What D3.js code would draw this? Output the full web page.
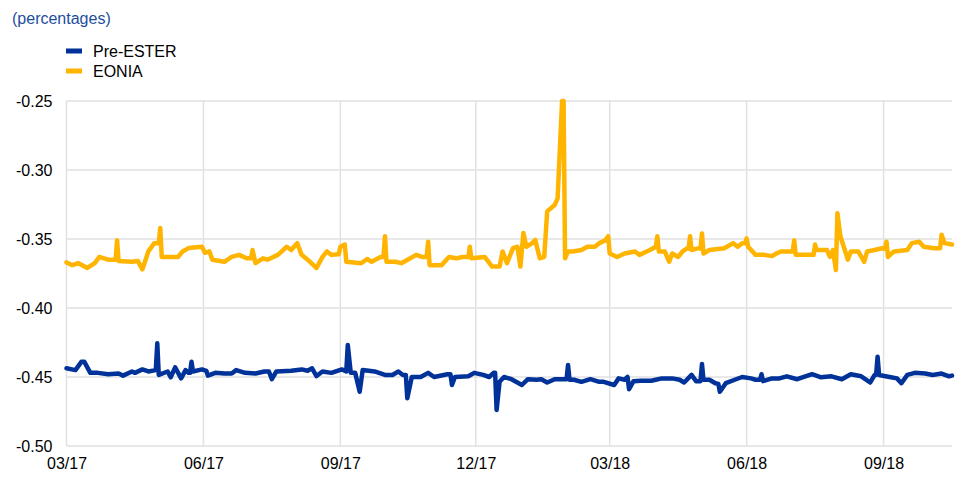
<!DOCTYPE html>
<html lang="en">
  <head>
    <meta charset="UTF-8" />
    <title>Pre-ESTER and EONIA</title>
    <style>
      body { margin: 0; background: #fff; }
      svg { font-family: "Liberation Sans", Arial, sans-serif; }
    </style>
  </head>
  <body>
    <svg width="965" height="490"></svg>

    <script src="https://d3js.org/d3.v7.min.js"></script>
    <script>
      (function () {
        "use strict";

        // series names and colours
        var seriesNames = ["Pre-ESTER", "EONIA"];
        var seriesColors = ["#003299", "#ffb400"];

        // y axis ticks
        var yTicks = [-0.25, -0.3, -0.35, -0.4, -0.45, -0.5];

        // EONIA (dates / values)
        var eoniaDates = [
          "2017-03-01","2017-03-05","2017-03-09","2017-03-15","2017-03-20","2017-03-23","2017-03-29",
          "2017-04-03","2017-04-04","2017-04-05","2017-04-14","2017-04-18","2017-04-21","2017-04-25","2017-04-29",
          "2017-05-02","2017-05-03","2017-05-04","2017-05-15","2017-05-18","2017-05-22","2017-05-31",
          "2017-06-02","2017-06-05","2017-06-07","2017-06-15","2017-06-20","2017-06-25","2017-06-30",
          "2017-07-03","2017-07-04","2017-07-06","2017-07-11","2017-07-14","2017-07-21","2017-07-27","2017-07-30",
          "2017-08-03","2017-08-06","2017-08-10","2017-08-16","2017-08-20","2017-08-23","2017-08-26","2017-08-31",
          "2017-09-01","2017-09-04","2017-09-05","2017-09-15","2017-09-19","2017-09-22","2017-09-28","2017-09-30",
          "2017-10-01","2017-10-02","2017-10-08","2017-10-12","2017-10-18","2017-10-22","2017-10-26","2017-10-29",
          "2017-10-30","2017-10-31","2017-11-08","2017-11-13","2017-11-18","2017-11-22","2017-11-26","2017-11-27",
          "2017-11-28","2017-12-07","2017-12-12","2017-12-17","2017-12-19","2017-12-22","2017-12-26","2017-12-29",
          "2017-12-31","2018-01-02","2018-01-04","2018-01-08","2018-01-10","2018-01-13","2018-01-16","2018-01-18",
          "2018-01-23","2018-01-25","2018-01-28","2018-01-29","2018-01-30","2018-02-01","2018-02-04","2018-02-10",
          "2018-02-14","2018-02-19","2018-02-22","2018-02-26","2018-02-28","2018-03-01","2018-03-06","2018-03-11",
          "2018-03-18","2018-03-21","2018-03-28","2018-04-01","2018-04-02","2018-04-03","2018-04-07","2018-04-10",
          "2018-04-12","2018-04-16","2018-04-19","2018-04-22","2018-04-23","2018-04-24","2018-04-25","2018-04-30",
          "2018-05-01","2018-05-02","2018-05-03","2018-05-07","2018-05-17","2018-05-23","2018-05-26","2018-05-29",
          "2018-05-31","2018-06-01","2018-06-02","2018-06-07","2018-06-13","2018-06-18","2018-06-21","2018-06-24",
          "2018-06-28","2018-07-02","2018-07-03","2018-07-04","2018-07-15","2018-07-16","2018-07-17","2018-07-18",
          "2018-07-25","2018-07-27","2018-07-29","2018-07-31","2018-08-01","2018-08-03","2018-08-06","2018-08-08",
          "2018-08-10","2018-08-15","2018-08-19","2018-08-21","2018-08-26","2018-08-31","2018-09-02","2018-09-03",
          "2018-09-04","2018-09-08","2018-09-17","2018-09-20","2018-09-25","2018-09-28","2018-10-05","2018-10-09",
          "2018-10-10","2018-10-12","2018-10-17"
        ];
        var eoniaValues = [
          -0.367,-0.369,-0.3675,-0.371,-0.3675,-0.363,-0.365,
          -0.365,-0.351,-0.366,-0.3665,-0.366,-0.372,-0.359,-0.353,
          -0.353,-0.342,-0.363,-0.363,-0.359,-0.3566,-0.3556,
          -0.36,-0.359,-0.365,-0.3665,-0.363,-0.3615,-0.364,
          -0.364,-0.358,-0.3675,-0.364,-0.365,-0.3615,-0.3556,-0.358,
          -0.353,-0.3615,-0.365,-0.371,-0.363,-0.359,-0.3615,-0.361,
          -0.3556,-0.354,-0.3665,-0.3676,-0.3645,-0.3665,-0.363,-0.363,
          -0.348,-0.3665,-0.3665,-0.3675,-0.364,-0.3615,-0.363,-0.363,
          -0.352,-0.369,-0.369,-0.363,-0.364,-0.363,-0.363,-0.3556,
          -0.364,-0.363,-0.37,-0.37,-0.359,-0.3675,-0.3566,-0.3556,
          -0.37,-0.3457,-0.3556,-0.353,-0.3507,-0.364,-0.363,-0.33,
          -0.3254,-0.3205,-0.25,-0.25,-0.364,-0.359,-0.359,-0.358,
          -0.3556,-0.3556,-0.353,-0.351,-0.348,-0.3605,-0.363,-0.3605,
          -0.359,-0.3615,-0.358,-0.3556,-0.348,-0.359,-0.359,-0.3665,
          -0.3605,-0.363,-0.359,-0.3567,-0.357,-0.348,-0.358,-0.3566,
          -0.357,-0.346,-0.3605,-0.358,-0.3567,-0.353,-0.3556,-0.353,
          -0.353,-0.3495,-0.3556,-0.3615,-0.3615,-0.3624,-0.3605,-0.359,
          -0.359,-0.359,-0.351,-0.3615,-0.3615,-0.3615,-0.354,-0.358,
          -0.358,-0.363,-0.358,-0.3725,-0.3314,-0.348,-0.358,-0.365,
          -0.359,-0.359,-0.3665,-0.359,-0.358,-0.3567,-0.357,-0.352,
          -0.363,-0.359,-0.358,-0.353,-0.352,-0.3556,-0.3567,-0.3567,
          -0.347,-0.353,-0.354
        ];

        // Pre-ESTER
        var esterDates = [
          "2017-03-01","2017-03-07","2017-03-11","2017-03-13","2017-03-17","2017-03-22","2017-03-29",
          "2017-04-05","2017-04-08","2017-04-14","2017-04-16","2017-04-21","2017-04-25","2017-04-30",
          "2017-05-01","2017-05-02","2017-05-08","2017-05-10","2017-05-13","2017-05-17","2017-05-20","2017-05-22",
          "2017-05-23","2017-05-24","2017-05-25","2017-05-31","2017-06-03","2017-06-04","2017-06-09","2017-06-15",
          "2017-06-20","2017-06-23","2017-06-29","2017-07-06","2017-07-12","2017-07-15","2017-07-17","2017-07-20",
          "2017-07-30","2017-08-06","2017-08-10","2017-08-13","2017-08-16","2017-08-20","2017-08-26","2017-09-02",
          "2017-09-05","2017-09-06","2017-09-08","2017-09-11","2017-09-14","2017-09-16","2017-09-24","2017-10-01",
          "2017-10-06","2017-10-10","2017-10-13","2017-10-15","2017-10-16","2017-10-19","2017-10-25","2017-10-30",
          "2017-11-03","2017-11-12","2017-11-14","2017-11-15","2017-11-17","2017-11-26","2017-11-30","2017-12-06",
          "2017-12-10","2017-12-13","2017-12-14","2017-12-15","2017-12-17","2017-12-20","2017-12-25","2018-01-01",
          "2018-01-05","2018-01-11","2018-01-14","2018-01-18","2018-01-23","2018-01-28","2018-01-31","2018-02-01",
          "2018-02-02","2018-02-05","2018-02-10","2018-02-16","2018-02-22","2018-02-25","2018-03-04","2018-03-07",
          "2018-03-11","2018-03-13","2018-03-14","2018-03-17","2018-03-22","2018-03-29","2018-04-05","2018-04-12",
          "2018-04-17","2018-04-20","2018-04-25","2018-04-28","2018-05-01","2018-05-02","2018-05-03","2018-05-07",
          "2018-05-11","2018-05-13","2018-05-14","2018-05-18","2018-05-24","2018-05-29","2018-06-04","2018-06-07",
          "2018-06-10","2018-06-11","2018-06-12","2018-06-18","2018-06-23","2018-06-28","2018-07-05","2018-07-15",
          "2018-07-21","2018-07-28","2018-08-04","2018-08-10","2018-08-17","2018-08-23","2018-08-26","2018-08-27",
          "2018-08-28","2018-08-29","2018-09-05","2018-09-10","2018-09-13","2018-09-17","2018-09-22","2018-09-29",
          "2018-10-04","2018-10-10","2018-10-15","2018-10-17"
        ];
        var esterValues = [
          -0.4437,-0.445,-0.439,-0.439,-0.447,-0.447,-0.448,
          -0.4475,-0.449,-0.446,-0.447,-0.4445,-0.446,-0.445,
          -0.4256,-0.4485,-0.446,-0.4502,-0.443,-0.451,-0.445,-0.447,
          -0.447,-0.439,-0.446,-0.4445,-0.4455,-0.449,-0.447,-0.4475,
          -0.4475,-0.445,-0.447,-0.4475,-0.446,-0.446,-0.4516,-0.446,
          -0.4455,-0.4445,-0.4455,-0.4437,-0.4493,-0.446,-0.447,-0.4445,
          -0.446,-0.4268,-0.447,-0.447,-0.4607,-0.445,-0.446,-0.4485,
          -0.4485,-0.446,-0.4485,-0.4485,-0.4654,-0.45,-0.45,-0.447,
          -0.45,-0.448,-0.448,-0.4558,-0.45,-0.4495,-0.447,-0.4485,
          -0.45,-0.447,-0.447,-0.4739,-0.4535,-0.45,-0.4516,-0.4558,
          -0.4516,-0.452,-0.4516,-0.454,-0.4516,-0.4516,-0.4516,-0.4413,
          -0.452,-0.452,-0.4535,-0.4516,-0.4535,-0.4535,-0.4558,-0.451,
          -0.452,-0.45,-0.4589,-0.453,-0.4527,-0.4527,-0.451,-0.451,
          -0.452,-0.454,-0.4485,-0.453,-0.453,-0.4406,-0.452,-0.452,
          -0.4545,-0.455,-0.4607,-0.4545,-0.452,-0.45,-0.451,-0.452,
          -0.452,-0.448,-0.453,-0.451,-0.451,-0.4495,-0.4516,-0.448,
          -0.4502,-0.4495,-0.4516,-0.448,-0.4495,-0.454,-0.4485,-0.4485,
          -0.4353,-0.4485,-0.45,-0.451,-0.4545,-0.4485,-0.447,-0.4475,
          -0.4485,-0.4475,-0.4495,-0.449
        ];

        var parse = d3.timeParse("%Y-%m-%d");
        var series = [
          { name: seriesNames[0], color: seriesColors[0],
            points: esterDates.map(function (d, i) { return { date: parse(d), value: esterValues[i] }; }) },
          { name: seriesNames[1], color: seriesColors[1],
            points: eoniaDates.map(function (d, i) { return { date: parse(d), value: eoniaValues[i] }; }) }
        ];

        var left = 66.5, right = 952, top = 101, bottom = 446;
        var startDate = parse("2017-03-01"), endDate = parse("2018-10-17");

        var x = d3.scaleTime().domain([startDate, endDate]).range([left, right]);
        var y = d3.scaleLinear().domain([-0.5, -0.25]).range([bottom, top]);

        // quarterly ticks: 03/17, 06/17, ...
        var xTicks = d3.timeMonth.range(startDate, endDate, 3);

        // plain hyphen for negative numbers
        var fmt = d3.formatLocale({ decimal: ".", thousands: ",", grouping: [3], currency: ["", ""], minus: "-" }).format(".2f");

        var svg = d3.select("svg");

        // title
        svg.append("text")
          .attr("x", 12).attr("y", 24)
          .attr("fill", "#1d4e9e")
          .style("font-size", "16px")
          .text("(percentages)");

        // legend
        var legend = svg.selectAll("g.legend").data(series).enter()
          .append("g").attr("class", "legend")
          .attr("transform", function (d, i) { return "translate(66," + (51 + i * 20) + ")"; });
        legend.append("rect")
          .attr("x", 0).attr("y", -2.5).attr("width", 16).attr("height", 5)
          .attr("fill", function (d) { return d.color; });
        legend.append("text")
          .attr("x", 27).attr("y", 6)
          .attr("fill", "#000")
          .style("font-size", "16px")
          .text(function (d) { return d.name; });

        // grid
        svg.append("g").selectAll("line").data(yTicks).enter().append("line")
          .attr("x1", left).attr("x2", right)
          .attr("y1", function (d) { return y(d); }).attr("y2", function (d) { return y(d); })
          .attr("stroke", "#e1e1e1").attr("stroke-width", 1.5);
        svg.append("g").selectAll("line").data(xTicks).enter().append("line")
          .attr("x1", function (d) { return x(d); }).attr("x2", function (d) { return x(d); })
          .attr("y1", top).attr("y2", bottom)
          .attr("stroke", "#e1e1e1").attr("stroke-width", 1.5);

        // axes (labels only)
        var yAxis = svg.append("g")
          .attr("transform", "translate(" + (left - 14) + ",0)")
          .call(d3.axisLeft(y).tickValues(yTicks).tickFormat(fmt).tickSize(0).tickPadding(0));
        var xAxis = svg.append("g")
          .attr("transform", "translate(0," + (bottom + 12) + ")")
          .call(d3.axisBottom(x).tickValues(xTicks).tickFormat(d3.timeFormat("%m/%y")).tickSize(0).tickPadding(0));
        [yAxis, xAxis].forEach(function (a) {
          a.select(".domain").remove();
          a.selectAll("text")
            .attr("fill", "#000")
            .style("font-size", "16px")
            .style("font-family", '"Liberation Sans", Arial, sans-serif');
        });

        // lines
        var line = d3.line()
          .x(function (d) { return x(d.date); })
          .y(function (d) { return y(d.value); });

        svg.append("g").selectAll("path").data(series).enter().append("path")
          .attr("d", function (d) { return line(d.points); })
          .attr("fill", "none")
          .attr("stroke", function (d) { return d.color; })
          .attr("stroke-width", 4.5)
          .attr("stroke-linejoin", "round")
          .attr("stroke-linecap", "round");
      })();
    </script>
  </body>
</html>
